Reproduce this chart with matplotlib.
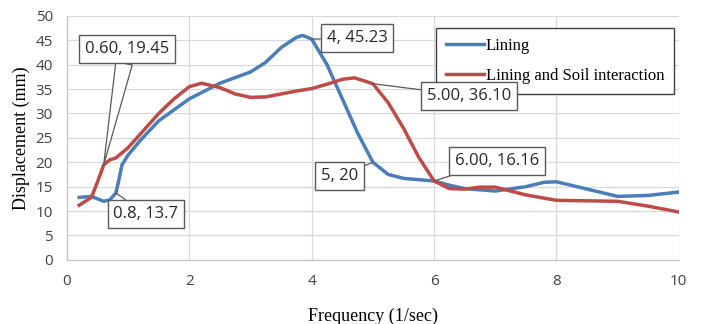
import matplotlib.pyplot as plt
import numpy as np

# data
lining_x = [0.2, 0.4, 0.5, 0.6, 0.7, 0.8, 0.85, 0.9, 1.0, 1.2, 1.5, 2.0, 2.5, 3.0, 3.25,
            3.5, 3.75, 3.85, 4.0, 4.25, 4.5, 4.75, 5.0, 5.25, 5.5, 6.0, 6.25, 6.5, 7.0,
            7.5, 7.8, 8.0, 8.5, 9.0, 9.5, 10.0]
lining_y = [12.8, 13.0, 12.5, 12.0, 12.3, 13.7, 16.5, 19.5, 21.5, 24.5, 28.5, 33.0, 36.2,
            38.5, 40.5, 43.5, 45.6, 46.0, 45.23, 40.0, 33.0, 26.0, 20.0, 17.5, 16.7, 16.16,
            15.3, 14.6, 14.1, 15.0, 15.9, 16.0, 14.5, 13.0, 13.2, 13.9]

soil_x = [0.2, 0.4, 0.5, 0.6, 0.7, 0.8, 1.0, 1.25, 1.5, 1.75, 2.0, 2.2, 2.5, 2.75, 3.0,
          3.25, 3.5, 3.75, 4.0, 4.25, 4.5, 4.7, 5.0, 5.25, 5.5, 5.75, 6.0, 6.25, 6.5,
          6.75, 7.0, 7.5, 8.0, 8.5, 9.0, 9.5, 10.0]
soil_y = [11.2, 12.8, 16.0, 19.45, 20.5, 20.9, 23.0, 26.5, 30.0, 33.0, 35.5, 36.2, 35.3,
          34.0, 33.3, 33.4, 34.0, 34.6, 35.1, 36.0, 37.0, 37.3, 36.1, 32.2, 27.0, 21.0,
          16.16, 14.6, 14.5, 14.9, 14.9, 13.3, 12.2, 12.1, 12.0, 11.0, 9.8]

# callouts: (text, point, box centre)
callouts = [
    ('0.60, 19.45', (0.6, 19.45), (0.98, 43.2)),
    ('0.8, 13.7', (0.8, 13.7), (1.29, 9.4)),
    ('4, 45.23', (4.0, 45.23), (4.74, 45.5)),
    ('5.00, 36.10', (5.0, 36.1), (6.57, 33.6)),
    ('5, 20', (5.0, 20.0), (4.46, 17.2)),
    ('6.00, 16.16', (6.0, 16.16), (7.03, 20.3)),
]

sans = 'Open Sans'
serif = 'Liberation Serif'

fig, ax = plt.subplots(figsize=(7.02, 3.24), dpi=100)
fig.subplots_adjust(left=0.0954, right=0.967, top=0.951, bottom=0.198)

ax.plot(lining_x, lining_y, color='#4A7EBB', lw=2.5, label='Lining', zorder=3)
ax.plot(soil_x, soil_y, color='#BE4B48', lw=2.5, label='Lining and Soil interaction', zorder=3)

box = dict(boxstyle='square,pad=0.35', fc='white', ec='#595959', lw=1.0)
for i, (txt, pt, pos) in enumerate(callouts):
    if i == 0:
        arrow = dict(arrowstyle='wedge,tail_width=1.0', fc='white', ec='#595959', lw=0.9,
                     shrinkA=0, shrinkB=0)
    else:
        arrow = dict(arrowstyle='-', color='#595959', lw=0.9, shrinkA=0, shrinkB=0)
    ax.annotate(txt, xy=pt, xytext=pos, ha='center', va='center', fontsize=12,
                family=sans, color='#262626', bbox=box, arrowprops=arrow, zorder=6)

ax.set_xlim(0, 10)
ax.set_ylim(0, 50)
ax.set_xticks(np.arange(0, 11, 2))
ax.set_yticks(np.arange(0, 51, 5))
ax.grid(True, color='#D9D9D9', lw=0.9)
ax.set_axisbelow(True)
for s in ['top', 'right']:
    ax.spines[s].set_visible(False)
for s in ['left', 'bottom']:
    ax.spines[s].set_color('#BFBFBF')
ax.tick_params(length=0, labelsize=11, colors='#404040')
ax.tick_params(axis='x', pad=10)
ax.tick_params(axis='y', pad=10)
for lab in ax.get_xticklabels() + ax.get_yticklabels():
    lab.set_family(sans)

ax.set_xlabel('Frequency (1/sec)', family=serif, fontsize=13, labelpad=14)
ax.set_ylabel('Displacement (mm)', family=serif, fontsize=13, labelpad=4)

leg = ax.legend(loc='upper left', bbox_to_anchor=(0.603, 0.951), prop={'family': serif, 'size': 12},
                fancybox=False, framealpha=1, edgecolor='#404040', handlelength=2.3,
                handletextpad=0.1, borderpad=0.6, labelspacing=0.85, borderaxespad=0)
leg.get_frame().set_linewidth(1.0)
leg.set_zorder(5)

fig.savefig('out.png', dpi=100)
